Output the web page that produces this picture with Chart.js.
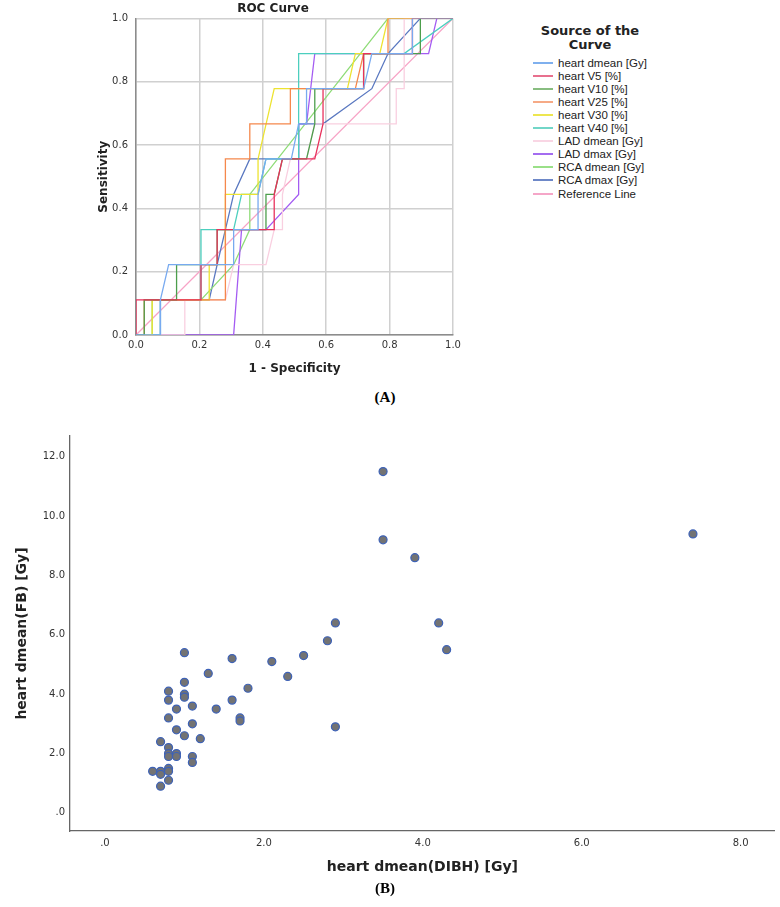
<!DOCTYPE html>
<html>
<head>
<meta charset="utf-8">
<script src="https://cdn.jsdelivr.net/npm/chart.js@4.4.1/dist/chart.umd.min.js"></script>
<style>
    body { margin: 0; width: 780px; height: 907px; background: #fff; position: relative; overflow: hidden; }
    #rocChart { position: absolute; left: 0; top: 0; }
    #scatterChart { position: absolute; left: 0; top: 425px; }
    .caption { position: absolute; font: bold 15px 'Liberation Serif', serif; color: #000; transform: translate(-50%, -50%); }
    #legendTitle { position: absolute; left: 500px; top: 24px; width: 180px; text-align: center; font: bold 13px 'DejaVu Sans', sans-serif; line-height: 14px; color: #222; }
    .leg-item { position: absolute; left: 533px; height: 13px; display: flex; align-items: center; font: 11.5px 'Liberation Sans', sans-serif; color: #222; white-space: nowrap; }
    .leg-item .swatch { display: inline-block; width: 20px; height: 2px; margin-right: 5px; }
</style>
</head>
<body>
<canvas id="rocChart" width="470" height="380"></canvas>
<div id="legendTitle">Source of the<br>Curve</div>
<div id="legendItems"></div>
<div class="caption" style="left:385px; top:397px;">(A)</div>
<canvas id="scatterChart" width="780" height="455"></canvas>
<div class="caption" style="left:385px; top:888px;">(B)</div>

<script>
// ROC curves (x = 1 - specificity, y = sensitivity)
const heartDmean = [[0,0],[0.077,0],[0.077,0.111],[0.103,0.222],[0.308,0.222],[0.308,0.333],[0.385,0.333],[0.385,0.444],[0.41,0.556],[0.49,0.556],[0.513,0.667],[0.538,0.667],[0.538,0.778],[0.718,0.778],[0.744,0.889],[0.872,0.889],[0.872,1],[1,1]];
const heartV5 = [[0,0],[0,0.111],[0.205,0.111],[0.205,0.222],[0.256,0.222],[0.256,0.333],[0.436,0.333],[0.436,0.444],[0.462,0.556],[0.564,0.556],[0.59,0.667],[0.59,0.778],[0.718,0.778],[0.718,0.889],[0.872,0.889],[0.872,1],[1,1]];
const heartV10 = [[0,0],[0.026,0],[0.026,0.111],[0.128,0.111],[0.128,0.222],[0.256,0.222],[0.256,0.333],[0.41,0.333],[0.41,0.444],[0.436,0.444],[0.462,0.556],[0.538,0.556],[0.564,0.667],[0.564,0.778],[0.718,0.778],[0.718,0.889],[0.897,0.889],[0.897,1],[1,1]];
const heartV25 = [[0,0],[0.026,0],[0.026,0.111],[0.282,0.111],[0.282,0.556],[0.359,0.556],[0.359,0.667],[0.487,0.667],[0.487,0.778],[0.692,0.778],[0.718,0.889],[0.795,0.889],[0.795,1],[1,1]];
const heartV30 = [[0,0],[0.051,0],[0.051,0.111],[0.231,0.111],[0.231,0.222],[0.282,0.222],[0.282,0.444],[0.385,0.444],[0.385,0.556],[0.436,0.778],[0.667,0.778],[0.692,0.889],[0.769,0.889],[0.795,1],[1,1]];
const heartV40 = [[0,0],[0.077,0],[0.077,0.111],[0.205,0.111],[0.205,0.333],[0.308,0.333],[0.333,0.444],[0.385,0.444],[0.41,0.556],[0.513,0.556],[0.513,0.889],[0.846,0.889],[1,1]];
const ladDmean = [[0,0],[0.154,0],[0.154,0.111],[0.282,0.111],[0.308,0.222],[0.41,0.222],[0.436,0.333],[0.462,0.333],[0.462,0.444],[0.487,0.556],[0.538,0.556],[0.564,0.667],[0.821,0.667],[0.821,0.778],[0.846,0.778],[0.846,1],[1,1]];
const ladDmax = [[0,0],[0.308,0],[0.333,0.333],[0.41,0.333],[0.513,0.444],[0.513,0.667],[0.538,0.667],[0.564,0.889],[0.923,0.889],[0.949,1],[1,1]];
const rcaDmean = [[0,0],[0.051,0],[0.051,0.111],[0.205,0.111],[0.308,0.222],[0.359,0.333],[0.359,0.444],[0.795,1],[1,1]];
const rcaDmax = [[0,0],[0.077,0],[0.077,0.111],[0.231,0.111],[0.256,0.222],[0.282,0.333],[0.308,0.444],[0.359,0.556],[0.513,0.556],[0.513,0.667],[0.59,0.667],[0.744,0.778],[0.795,0.889],[0.897,1],[1,1]];
const referenceLine = [[0,0],[1,1]];

const curveNames = ['heart dmean [Gy]', 'heart V5 [%]', 'heart V10 [%]', 'heart V25 [%]', 'heart V30 [%]', 'heart V40 [%]', 'LAD dmean [Gy]', 'LAD dmax [Gy]', 'RCA dmean [Gy]', 'RCA dmax [Gy]', 'Reference Line'];
const curveColors = ['#78aaf0', '#e8325c', '#4c9e4c', '#f5884c', '#ede330', '#4ccfbe', '#f9cfe0', '#a45cf2', '#8fdc78', '#5a78c0', '#f7a3c6'];
const legendColors = ['#7fb0ee', '#e8708e', '#88bd80', '#f6aa86', '#ede650', '#72d6c8', '#f9d6e4', '#a46cf0', '#9ae088', '#6e88c8', '#f5a6c8'];
const curves = [heartDmean, heartV5, heartV10, heartV25, heartV30, heartV40, ladDmean, ladDmax, rcaDmean, rcaDmax, referenceLine];
const rocTicks = [0, 0.2, 0.4, 0.6, 0.8, 1.0];

// Scatter: heart dmean DIBH vs FB
const dibhValues = [3.5, 7.4, 3.5, 3.9, 2.9, 4.2, 2.8, 4.3, 1.0, 1.6, 2.1, 2.5, 2.3, 1.3, 1.0, 1.8, 0.8, 1.0, 1.0, 0.8, 1.6, 0.9, 1.4, 1.1, 0.8, 1.7, 1.7, 1.1, 2.9, 0.9, 1.0, 1.2, 0.7, 0.8, 0.8, 0.8, 0.9, 0.9, 1.1, 1.1, 0.6, 0.7, 0.7, 0.8, 0.8, 0.8, 0.7];
const fbValues = [11.5, 9.4, 9.2, 8.6, 6.4, 6.4, 5.8, 5.5, 5.4, 5.2, 5.1, 5.3, 4.6, 4.7, 4.4, 4.2, 4.1, 4.0, 3.9, 3.8, 3.8, 3.5, 3.5, 3.6, 3.2, 3.2, 3.1, 3.0, 2.9, 2.8, 2.6, 2.5, 2.4, 2.2, 2.0, 1.9, 2.0, 1.9, 1.9, 1.7, 1.4, 1.4, 1.3, 1.5, 1.4, 1.1, 0.9];
const xTickValues = [0, 2, 4, 6, 8];
const yTickValues = [0, 2, 4, 6, 8, 10, 12];

document.addEventListener('DOMContentLoaded', function() {
    buildLegend();
    drawRocChart();
    drawScatterChart();
});

function buildLegend() {
    const container = document.getElementById('legendItems');
    container.innerHTML = curveNames.map((name, i) => `
        <div class="leg-item" style="top:${56 + i * 13.1}px">
            <span class="swatch" style="background:${legendColors[i]}"></span>${name}
        </div>
    `).join('');
}

function drawRocChart() {
    const ctx = document.getElementById('rocChart').getContext('2d');
    new Chart(ctx, {
        type: 'scatter',
        data: {
            datasets: curves.map((pts, i) => ({
                label: curveNames[i],
                data: pts.map(p => ({ x: p[0], y: p[1] })),
                showLine: true,
                borderColor: curveColors[i],
                backgroundColor: curveColors[i],
                borderWidth: 1.3,
                pointRadius: 0,
                tension: 0
            }))
        },
        options: {
            responsive: false,
            animation: false,
            layout: { padding: { left: 93, right: 17, top: 0, bottom: 0 } },
            plugins: {
                legend: { display: false },
                tooltip: { enabled: false },
                title: {
                    display: true,
                    text: 'ROC Curve',
                    color: '#222',
                    font: { family: 'DejaVu Sans', size: 12, weight: 'bold' },
                    padding: { top: 2, bottom: 2 }
                }
            },
            scales: {
                x: {
                    type: 'linear',
                    min: 0,
                    max: 1,
                    afterFit: s => { s.height = 45; },
                    afterBuildTicks: s => { s.ticks = rocTicks.map(v => ({ value: v })); },
                    ticks: {
                        callback: v => Number(v).toFixed(1),
                        padding: 4,
                        color: '#333',
                        font: { family: 'DejaVu Sans', size: 10 }
                    },
                    grid: { color: '#d0d0d0', lineWidth: 1.5, drawTicks: false },
                    border: { color: '#8c8c8c', width: 1.5 },
                    title: {
                        display: true,
                        text: '1 - Specificity',
                        color: '#222',
                        font: { family: 'DejaVu Sans', size: 12, weight: 'bold' },
                        padding: { top: 4, bottom: 4 }
                    }
                },
                y: {
                    type: 'linear',
                    min: 0,
                    max: 1,
                    afterFit: s => { s.width = 43; },
                    afterBuildTicks: s => { s.ticks = rocTicks.map(v => ({ value: v })); },
                    ticks: {
                        callback: v => Number(v).toFixed(1),
                        padding: 8,
                        color: '#333',
                        font: { family: 'DejaVu Sans', size: 10 }
                    },
                    grid: { color: '#d0d0d0', lineWidth: 1.5, drawTicks: false },
                    border: { color: '#8c8c8c', width: 1.5 },
                    title: {
                        display: true,
                        text: 'Sensitivity',
                        color: '#222',
                        font: { family: 'DejaVu Sans', size: 12, weight: 'bold' },
                        padding: { top: 4, bottom: 4 }
                    }
                }
            }
        }
    });
}

function drawScatterChart() {
    const ctx = document.getElementById('scatterChart').getContext('2d');
    new Chart(ctx, {
        type: 'scatter',
        data: {
            datasets: [{
                label: 'heart dmean',
                data: dibhValues.map((x, i) => ({ x: x, y: fbValues[i] })),
                pointRadius: 4,
                pointHoverRadius: 4,
                borderWidth: 1.2,
                backgroundColor: '#737373',
                borderColor: '#3d62b8'
            }]
        },
        options: {
            responsive: false,
            animation: false,
            layout: { padding: { left: 10, right: 5, top: 8, bottom: 0 } },
            plugins: {
                legend: { display: false },
                tooltip: { enabled: false }
            },
            scales: {
                x: {
                    type: 'linear',
                    min: -0.44,
                    max: 8.43,
                    afterFit: s => { s.height = 49; },
                    afterBuildTicks: s => { s.ticks = xTickValues.map(v => ({ value: v })); },
                    ticks: {
                        callback: v => v === 0 ? '.0' : Number(v).toFixed(1),
                        padding: 6,
                        color: '#333',
                        font: { family: 'DejaVu Sans', size: 10 }
                    },
                    grid: { display: false, drawTicks: false },
                    border: { color: '#666', width: 1.3 },
                    title: {
                        display: true,
                        text: 'heart dmean(DIBH) [Gy]',
                        color: '#222',
                        font: { family: 'DejaVu Sans', size: 14, weight: 'bold' },
                        padding: { top: 4, bottom: 4 }
                    }
                },
                y: {
                    type: 'linear',
                    min: -0.61,
                    max: 12.7,
                    afterFit: s => { s.width = 60; },
                    afterBuildTicks: s => { s.ticks = yTickValues.map(v => ({ value: v })); },
                    ticks: {
                        callback: v => v === 0 ? '.0' : Number(v).toFixed(1),
                        padding: 5,
                        color: '#333',
                        font: { family: 'DejaVu Sans', size: 10 }
                    },
                    grid: { display: false, drawTicks: false },
                    border: { color: '#666', width: 1.3 },
                    title: {
                        display: true,
                        text: 'heart dmean(FB) [Gy]',
                        color: '#222',
                        font: { family: 'DejaVu Sans', size: 14, weight: 'bold' },
                        padding: { top: 4, bottom: 4 }
                    }
                }
            }
        }
    });
}
</script>
</body>
</html>
